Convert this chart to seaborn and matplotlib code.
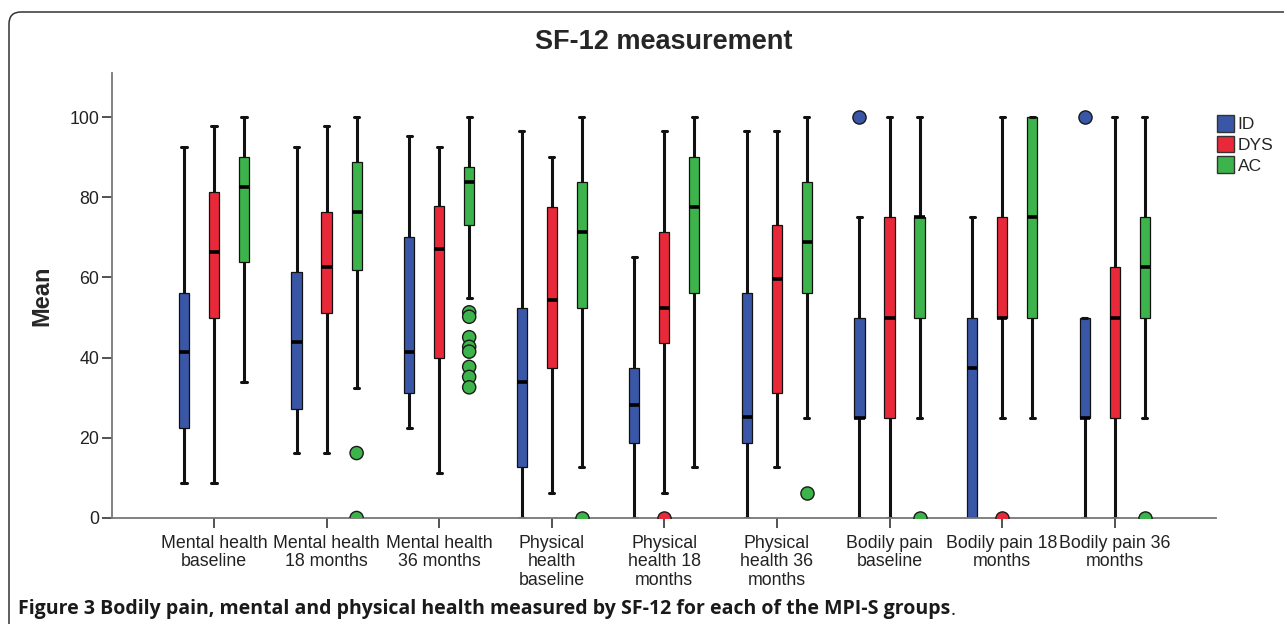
import pandas as pd
import seaborn as sns
import matplotlib.pyplot as plt
from matplotlib.patches import Patch, FancyBboxPatch
from matplotlib.transforms import IdentityTransform

categories = [
    "Mental health\nbaseline", "Mental health\n18 months", "Mental health\n36 months",
    "Physical\nhealth\nbaseline", "Physical\nhealth 18\nmonths", "Physical\nhealth 36\nmonths",
    "Bodily pain\nbaseline", "Bodily pain 18\nmonths", "Bodily pain 36\nmonths",
]
groups = ["ID", "DYS", "AC"]
colors = ["#3A56A6", "#E9283A", "#3CB44B"]

# five-number summaries: (min, q1, median, q3, max)
id_stats = [
    (8.7, 22.4, 41.3, 56.2, 92.6),
    (16.2, 27.3, 43.8, 61.3, 92.6),
    (22.5, 31.2, 41.3, 70.1, 95.2),
    (0, 12.6, 33.8, 52.5, 96.5),
    (0, 18.7, 28.2, 37.4, 65.0),
    (0, 18.7, 25.1, 56.2, 96.5),
    (0, 25, 25, 50, 75),
    (0, 0, 37.5, 50, 75),
    (0, 25, 25, 50, 50),
]
dys_stats = [
    (8.7, 50.0, 66.3, 81.3, 97.8),
    (16.2, 51.2, 62.6, 76.3, 97.8),
    (11.3, 39.9, 67.0, 77.8, 92.6),
    (6.2, 37.4, 54.5, 77.6, 90.1),
    (6.2, 43.7, 52.5, 71.3, 96.5),
    (12.6, 31.2, 59.5, 73.2, 96.5),
    (0, 25, 50, 75, 100),
    (25, 50, 50, 75, 100),
    (0, 25, 50, 62.5, 100),
]
ac_stats = [
    (33.8, 63.8, 82.6, 90.1, 100),
    (32.4, 61.9, 76.3, 88.8, 100),
    (55.0, 73.2, 83.8, 87.6, 100),
    (12.6, 52.5, 71.3, 83.8, 100),
    (12.6, 56.2, 77.6, 90.1, 100),
    (24.9, 56.2, 68.8, 83.8, 100),
    (25, 50, 75, 75, 100),
    (25, 50, 75, 100, 100),
    (25, 50, 62.5, 75, 100),
]

# outliers: (category index, value)
id_outliers = [(6, 100), (8, 100)]
dys_outliers = [(4, 0), (7, 0)]
ac_outliers = [(1, 16.2), (1, 0),
               (2, 51.3), (2, 50.2), (2, 45.1), (2, 42.7), (2, 41.5),
               (2, 37.7), (2, 35.2), (2, 32.6),
               (3, 0), (5, 6.2), (6, 0), (8, 0)]

rows = []
for g, stats in zip(groups, [id_stats, dys_stats, ac_stats]):
    for cat, five in zip(categories, stats):
        for v in five:
            rows.append({"category": cat, "group": g, "value": v})
box_df = pd.DataFrame(rows)

rows = []
for g, outs in zip(groups, [id_outliers, dys_outliers, ac_outliers]):
    for i, v in outs:
        rows.append({"category": categories[i], "group": g, "value": v})
out_df = pd.DataFrame(rows)

sns.set_style("ticks")
plt.rcParams["font.family"] = ["Liberation Sans", "DejaVu Sans"]

palette = dict(zip(groups, colors))
fig = plt.figure(figsize=(12.84, 6.24), dpi=100)
ax = fig.add_axes([112 / 1284, 1 - 518 / 624, (1216 - 112) / 1284, (518 - 73) / 624])

sns.boxplot(data=box_df, x="category", y="value", hue="group",
            order=categories, hue_order=groups, palette=palette,
            whis=(0, 100), width=0.8, gap=0.66, saturation=1,
            linecolor="#111111", legend=False, ax=ax,
            boxprops=dict(linewidth=0.9),
            whiskerprops=dict(linewidth=2.2),
            capprops=dict(linewidth=2.2),
            medianprops=dict(linewidth=2.6, color="black"))

sns.stripplot(data=out_df, x="category", y="value", hue="group",
              order=categories, hue_order=groups, palette=palette,
              dodge=True, jitter=False, size=9.5, linewidth=1,
              edgecolor="#1a1a1a", legend=False, ax=ax)

ax.set_xlim(-0.906, 8.9)
ax.set_ylim(0, 111)
ax.set_yticks([0, 20, 40, 60, 80, 100])
ax.set_xlabel("")
ax.set_ylabel("Mean", fontsize=17, fontweight="bold", labelpad=12)
ax.set_title("SF-12 measurement", fontsize=19.5, fontweight="bold", pad=17)

for side in ["top", "right"]:
    ax.spines[side].set_visible(False)
for side in ["left", "bottom"]:
    ax.spines[side].set_color("#777777")
    ax.spines[side].set_linewidth(1.3)
ax.tick_params(axis="both", length=7, width=1.3, color="#444444",
               labelsize=12.8, labelcolor="#222222")
ax.tick_params(axis="x", pad=5)
ax.tick_params(axis="y", pad=2)
for lbl in ax.get_xticklabels():
    lbl.set_linespacing(1.12)

handles = [Patch(facecolor=c, edgecolor="#333333", linewidth=1) for c in colors]
fig.legend(handles, groups, loc="upper left",
           bbox_to_anchor=(1217 / 1284, 1 - 115 / 624),
           frameon=False, fontsize=12.5, handlelength=1.0, handleheight=1.1,
           handletextpad=0.2, labelspacing=0.2, borderpad=0, borderaxespad=0)

# caption below the chart
cap_font = ["Open Sans", "DejaVu Sans"]
cap = fig.text(18 / 1284, 1 - 614 / 624,
               "Figure 3 Bodily pain, mental and physical health measured by SF-12 for each of the MPI-S groups",
               fontsize=14, fontweight="bold", family=cap_font,
               color="#1a1a1a", va="baseline")
ax.annotate(".", xy=(1, 0), xycoords=cap, fontsize=14,
            family=cap_font, color="#1a1a1a",
            va="bottom", ha="left", annotation_clip=False)

frame = FancyBboxPatch((9, -40), 1320, 624 - 12 + 40,
                       boxstyle="round,pad=0,rounding_size=12",
                       transform=IdentityTransform(), facecolor="none",
                       edgecolor="#333333", linewidth=1.1)
fig.add_artist(frame)

fig.savefig("out.png", dpi=100)
